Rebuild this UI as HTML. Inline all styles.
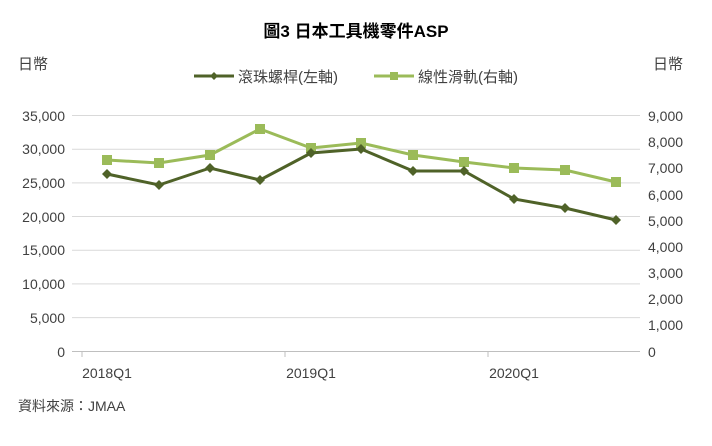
<!DOCTYPE html>
<html><head><meta charset="utf-8"><style>
body{margin:0;background:#fff;}
svg text{font-family:"Liberation Sans","Noto Sans CJK TC",sans-serif;fill:#404040;}
</style></head><body>
<svg width="712" height="441" viewBox="0 0 712 441" xmlns="http://www.w3.org/2000/svg">
<rect width="712" height="441" fill="#fff"/>
<text x="356" y="37" text-anchor="middle" font-size="17" font-weight="bold" style="fill:#000">圖3 日本工具機零件ASP</text>
<text x="18" y="69" font-size="15">日幣</text>
<text x="653" y="69" font-size="15">日幣</text>
<g stroke="#d9d9d9" stroke-width="1">
<line x1="72" y1="115.5" x2="640" y2="115.5"/>
<line x1="72" y1="149.2" x2="640" y2="149.2"/>
<line x1="72" y1="182.9" x2="640" y2="182.9"/>
<line x1="72" y1="216.5" x2="640" y2="216.5"/>
<line x1="72" y1="250.2" x2="640" y2="250.2"/>
<line x1="72" y1="283.9" x2="640" y2="283.9"/>
<line x1="72" y1="317.6" x2="640" y2="317.6"/>
</g>
<line x1="72" y1="351.5" x2="640" y2="351.5" stroke="#bfbfbf"/>
<g stroke="#bfbfbf"><line x1="82" y1="351" x2="82" y2="357"/><line x1="285" y1="351" x2="285" y2="357"/><line x1="488" y1="351" x2="488" y2="357"/></g>
<g font-size="14" text-anchor="end">
<text x="65" y="121">35,000</text><text x="65" y="154">30,000</text><text x="65" y="188">25,000</text><text x="65" y="222">20,000</text><text x="65" y="255">15,000</text><text x="65" y="289">10,000</text><text x="65" y="323">5,000</text><text x="65" y="357">0</text>
</g>
<g font-size="14">
<text x="648" y="121">9,000</text><text x="648" y="147">8,000</text><text x="648" y="173">7,000</text><text x="648" y="200">6,000</text><text x="648" y="226">5,000</text><text x="648" y="252">4,000</text><text x="648" y="278">3,000</text><text x="648" y="304">2,000</text><text x="648" y="330">1,000</text><text x="648" y="357">0</text>
</g>
<g font-size="14" text-anchor="middle">
<text x="107" y="378">2018Q1</text><text x="311" y="378">2019Q1</text><text x="514" y="378">2020Q1</text>
</g>
<text x="18" y="411" font-size="14">資料來源：JMAA</text>
<polyline fill="none" stroke="#9bbb59" stroke-width="3" points="107,160 159,163 210,155 260,129 311,148 361,143 413,155 464,162 514,168 565,170 616,182"/>
<g fill="#9bbb59">
<rect x="102" y="155" width="10" height="10"/><rect x="154" y="158" width="10" height="10"/><rect x="205" y="150" width="10" height="10"/><rect x="255" y="124" width="10" height="10"/><rect x="306" y="143" width="10" height="10"/><rect x="356" y="138" width="10" height="10"/><rect x="408" y="150" width="10" height="10"/><rect x="459" y="157" width="10" height="10"/><rect x="509" y="163" width="10" height="10"/><rect x="560" y="165" width="10" height="10"/><rect x="611" y="177" width="10" height="10"/>
</g>
<polyline fill="none" stroke="#4f6228" stroke-width="3" points="107,174 159,185 210,168 260,180 311,153 361,149 413,171 464,171 514,199 565,208 616,220"/>
<g fill="#4f6228">
<path d="M107 169l5 5-5 5-5-5z"/><path d="M159 180l5 5-5 5-5-5z"/><path d="M210 163l5 5-5 5-5-5z"/><path d="M260 175l5 5-5 5-5-5z"/><path d="M311 148l5 5-5 5-5-5z"/><path d="M361 144l5 5-5 5-5-5z"/><path d="M413 166l5 5-5 5-5-5z"/><path d="M464 166l5 5-5 5-5-5z"/><path d="M514 194l5 5-5 5-5-5z"/><path d="M565 203l5 5-5 5-5-5z"/><path d="M616 215l5 5-5 5-5-5z"/>
</g>
<line x1="194" y1="76" x2="234" y2="76" stroke="#4f6228" stroke-width="3"/>
<path d="M214 72l4 4-4 4-4-4z" fill="#4f6228"/>
<text x="238" y="82" font-size="15">滾珠螺桿(左軸)</text>
<line x1="374" y1="76" x2="414" y2="76" stroke="#9bbb59" stroke-width="3"/>
<rect x="390" y="72" width="8" height="8" fill="#9bbb59"/>
<text x="418" y="82" font-size="15">線性滑軌(右軸)</text>
</svg>
</body></html>
